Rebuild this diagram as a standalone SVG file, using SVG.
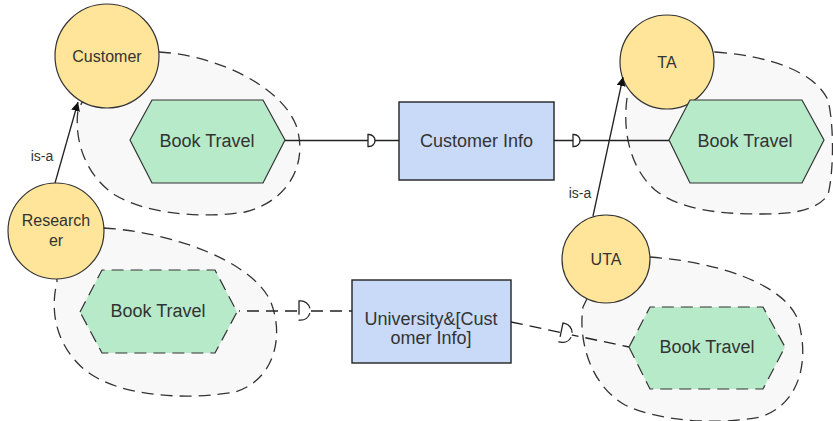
<svg xmlns="http://www.w3.org/2000/svg" width="833" height="421" viewBox="0 0 833 421">
<defs>
<style>
.blob{fill:#f8f8f8;stroke:#333;stroke-width:1.3;stroke-dasharray:12 7}
.actor{fill:#ffe599;stroke:#333;stroke-width:1.2}
.task{fill:#b6eac9;stroke:#333;stroke-width:1.2}
.task.d{stroke-dasharray:12 7}
.res{fill:#c9daf8;stroke:#222;stroke-width:1.4}
.t{font-family:"Liberation Sans",Arial,sans-serif;fill:#333;text-anchor:middle}
.t18{font-size:18px}
.t16{font-size:16px}
.t14{font-size:14px}
.ln{fill:none;stroke:#222;stroke-width:1.3}
.ln.d{stroke-dasharray:12 7}
.dm{fill:#fff;stroke:#222;stroke-width:1.3}
.dm.d{stroke-width:0.8;stroke-dasharray:9 3}
</style>
<marker id="arr" viewBox="0 0 10 10" refX="10" refY="5" markerWidth="9" markerHeight="9" markerUnits="userSpaceOnUse" orient="auto">
<path d="M0,0 L10,5 L0,10 Z" fill="#111"/>
</marker>
<path id="dsym" d="M0,-6 L1,-6 A6,6 0 0 1 1,6 L0,6 Z"/>
</defs>

<g id="customer">
<path class="blob" d="M159,52 C215,55 280,85 296,125 C308,160 292,200 245,212 C210,218 150,216 115,195 C85,175 74,140 78,110 L107,56 Z"/>
<circle class="actor" cx="107" cy="56" r="52"/>
<text class="t t16" x="107" y="61.5">Customer</text>
</g>
<g id="customer-book-travel">
<polygon class="task" points="130,140 152,100 263,100 285,140 263,183 152,183"/>
<text class="t t18" x="207" y="147">Book Travel</text>
</g>

<g id="ta">
<path class="blob" d="M715,52 C770,56 815,72 828,100 C834,125 834,170 828,195 C815,212 790,214 760,214 C720,214 680,210 655,190 C632,170 622,135 627,98 L667,62 Z"/>
<circle class="actor" cx="667" cy="62" r="47"/>
<text class="t t16" x="667" y="67.5">TA</text>
</g>
<g id="ta-book-travel">
<polygon class="task" points="669,140 690,100 802,100 824,140 802,183 690,183"/>
<text class="t t18" x="745" y="147">Book Travel</text>
</g>

<g id="researcher">
<path class="blob" d="M104,228 C170,232 250,260 270,300 C285,335 275,380 235,392 C190,400 120,398 85,370 C55,345 50,310 57,282 L56,231 Z"/>
<circle class="actor" cx="56" cy="231" r="48"/>
<text class="t t16" x="56" y="225.5">Research</text>
<text class="t t16" x="56" y="245.5">er</text>
</g>
<g id="researcher-book-travel">
<polygon class="task d" points="80,312 102,270 215,270 237,312 215,353 102,353"/>
<text class="t t18" x="158" y="317">Book Travel</text>
</g>

<g id="uta">
<path class="blob" d="M650,257 C720,262 785,285 798,320 C810,360 800,405 760,417 C720,425 660,422 625,405 C590,385 578,340 583,307 L606,259 Z"/>
<circle class="actor" cx="606" cy="259" r="44"/>
<text class="t t16" x="606" y="265">UTA</text>
</g>
<g id="uta-book-travel">
<polygon class="task d" points="629,347 650,307 763,307 785,347 763,389 650,389"/>
<text class="t t18" x="707" y="353">Book Travel</text>
</g>

<g id="customer-info">
<rect class="res" x="399" y="102" width="155" height="78"/>
<text class="t t18" x="476.5" y="147">Customer Info</text>
</g>

<g id="university-customer-info">
<rect class="res" x="352" y="280" width="159" height="83"/>
<text class="t t18" x="431" y="325">University&amp;[Cust</text>
<text class="t t18" x="431" y="344">omer Info]</text>
</g>

<g id="connectors">
<line class="ln" x1="285" y1="140.5" x2="399" y2="140.5"/>
<use href="#dsym" class="dm" x="368" y="140.5"/>
<line class="ln" x1="554" y1="140.5" x2="669" y2="140.5"/>
<use href="#dsym" class="dm" x="573" y="140.5"/>
<line class="ln d" x1="239" y1="311" x2="299" y2="311" stroke-dashoffset="-8"/>
<line class="ln d" x1="309" y1="311" x2="352" y2="311" stroke-dashoffset="-2"/>
<use href="#dsym" class="dm d" transform="translate(299,310.5) scale(1.6)"/>
<line class="ln d" x1="511" y1="322" x2="629" y2="347"/>
<use href="#dsym" class="dm d" transform="translate(561,332.5) rotate(12) scale(1.6)"/>
<line class="ln" x1="55" y1="183" x2="78" y2="102" marker-end="url(#arr)"/>
<text class="t t14" x="42" y="161">is-a</text>
<line class="ln" x1="593" y1="216" x2="623" y2="77" marker-end="url(#arr)"/>
<text class="t t14" x="580" y="198">is-a</text>
</g>
</svg>
